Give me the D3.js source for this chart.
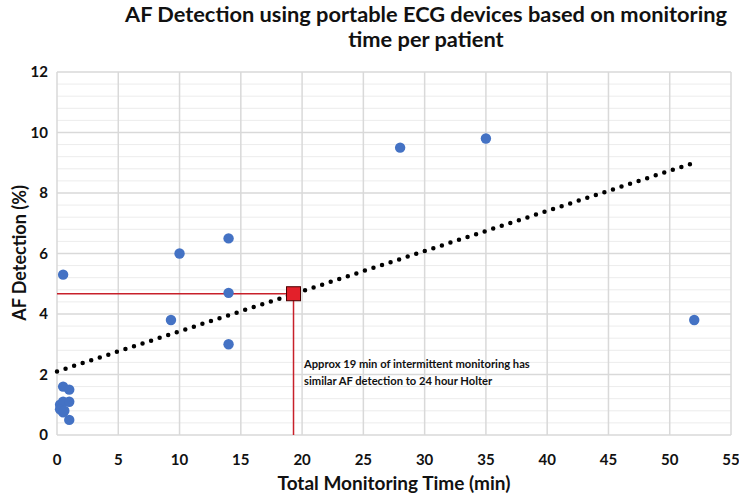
<!DOCTYPE html>
<html><head><meta charset="utf-8">
<script src="https://cdn.jsdelivr.net/npm/d3@7"></script>
<style>body{margin:0;background:#fff}text{font-family:Lato,"Open Sans",sans-serif;font-weight:bold}</style>
</head><body><svg id="c" width="739" height="495"></svg>
<script>
const titleLines = ["AF Detection using portable ECG devices based on monitoring", "time per patient"];
const xLabel = "Total Monitoring Time (min)";
const yLabel = "AF Detection (%)";
const xTicks = [0,5,10,15,20,25,30,35,40,45,50,55];
const yTicks = [0,2,4,6,8,10,12];
const monitoringTime = [0.25,0.5,1.0,0.25,0.5,1.0,0.5,1.0,0.6,0.5,9.3,10,14,14,14,28,35,52];
const afDetection   = [1.0,1.1,1.1,0.85,0.75,0.5,1.6,1.5,0.8,5.3,3.8,6.0,6.5,4.7,3.0,9.5,9.8,3.8];
const trendX = [0, 52];
const trendY = [2.1, 9.0];
const holterPoint = [19.3, 4.67];
const annotation = ["Approx 19 min of intermittent monitoring has", "similar AF detection to 24 hour Holter"];

const svg = d3.select("#c");
const L=57,R=731,T=72,B=435;
const x = d3.scaleLinear().domain([0,55]).range([L,R]);
const y = d3.scaleLinear().domain([0,12]).range([B,T]);

const minor = d3.range(0,12.0001,0.4).filter(v=>Math.abs(v/2-Math.round(v/2))>1e-6);
svg.append("g").selectAll("line").data(minor).join("line")
  .attr("x1",L).attr("x2",R).attr("y1",d=>y(d)).attr("y2",d=>y(d))
  .attr("stroke","#ececec").attr("stroke-width",1);
svg.append("g").selectAll("line").data(yTicks).join("line")
  .attr("x1",L).attr("x2",R).attr("y1",d=>y(d)).attr("y2",d=>y(d))
  .attr("stroke","#d9d9d9").attr("stroke-width",1.5);
svg.append("g").selectAll("line").data(xTicks).join("line")
  .attr("y1",T).attr("y2",B).attr("x1",d=>x(d)).attr("x2",d=>x(d))
  .attr("stroke","#d9d9d9").attr("stroke-width",1.5);

svg.append("g").selectAll("text").data(xTicks).join("text")
  .attr("x",d=>x(d)).attr("y",465).attr("text-anchor","middle")
  .attr("font-size",15).attr("fill","#111").text(d=>d);
svg.append("g").selectAll("text").data(yTicks).join("text")
  .attr("x",48).attr("y",d=>y(d)+5).attr("text-anchor","end")
  .attr("font-size",15).attr("fill","#111").text(d=>d);

svg.append("line").attr("x1",x(0)).attr("x2",x(holterPoint[0])).attr("y1",y(holterPoint[1])).attr("y2",y(holterPoint[1]))
  .attr("stroke","#c8202a").attr("stroke-width",1.5);
svg.append("line").attr("x1",x(holterPoint[0])).attr("x2",x(holterPoint[0])).attr("y1",y(holterPoint[1])).attr("y2",y(0))
  .attr("stroke","#c8202a").attr("stroke-width",1.5);

svg.append("g").selectAll("circle").data(monitoringTime.map((t,i)=>[t,afDetection[i]])).join("circle")
  .attr("cx",d=>x(d[0])).attr("cy",d=>y(d[1])).attr("r",5.2).attr("fill","#4472c4");

svg.append("line").attr("x1",x(trendX[0])).attr("y1",y(trendY[0])).attr("x2",x(trendX[1])).attr("y2",y(trendY[1]))
  .attr("stroke","#000").attr("stroke-width",4.5).attr("stroke-linecap","round").attr("stroke-dasharray","0 9");

svg.append("rect").attr("x",x(holterPoint[0])-7).attr("y",y(holterPoint[1])-7).attr("width",14).attr("height",14)
  .attr("fill","#e3202a").attr("stroke","#4a0000").attr("stroke-width",1);

svg.append("g").selectAll("text").data(annotation).join("text")
  .attr("x",304).attr("y",(d,i)=>368+i*17).attr("font-size",11.2).attr("fill","#111").text(d=>d);

svg.append("g").selectAll("text").data(titleLines).join("text")
  .attr("x",426).attr("y",(d,i)=>22+i*25).attr("text-anchor","middle")
  .attr("font-size",21.8).attr("fill","#111").text(d=>d);
svg.append("text").attr("x",394).attr("y",490).attr("text-anchor","middle").attr("font-size",19).attr("fill","#111").text(xLabel);
svg.append("text").attr("transform","translate(26,253) rotate(-90)").attr("text-anchor","middle").attr("font-size",18).attr("fill","#111").text(yLabel);
</script></body></html>
